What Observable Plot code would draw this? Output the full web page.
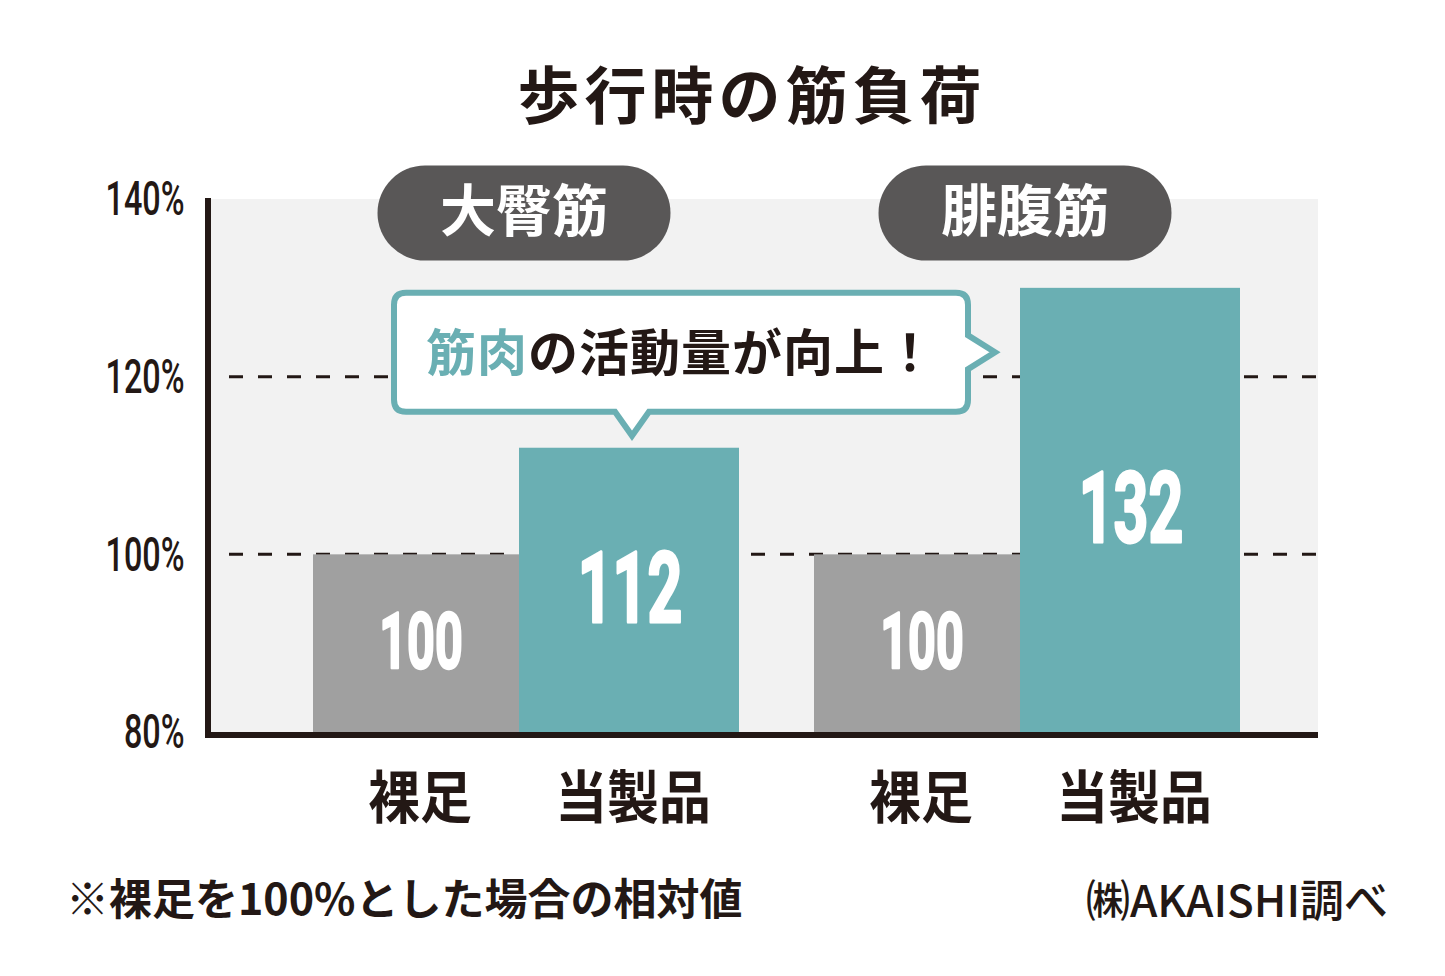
<!DOCTYPE html>
<html><head><meta charset="utf-8">
<script src="https://cdn.jsdelivr.net/npm/d3@7"></script>
<script src="https://cdn.jsdelivr.net/npm/@observablehq/plot@0.6"></script>
<style>
body{margin:0;background:#fff;}
#wrap{position:relative;width:1445px;height:976px;overflow:hidden;font-family:"Noto Sans CJK JP",sans-serif;color:#231815;}
#title{position:absolute;left:452px;width:600px;top:52px;text-align:center;font-size:62px;font-weight:700;letter-spacing:5px;line-height:80px;white-space:nowrap;}
#chart{position:absolute;left:0;top:150px;}
#note{position:absolute;left:66px;top:868px;font-size:43px;font-weight:700;line-height:56px;white-space:nowrap;}
#src{position:absolute;right:57px;top:870px;font-size:44px;font-weight:500;line-height:56px;white-space:nowrap;}
</style></head>
<body>
<div id="wrap">
  <div id="title">歩行時の筋負荷</div>
  <div id="chart"></div>
  <div id="note">※裸足を100%とした場合の相対値</div>
  <div id="src">㈱AKAISHI調べ</div>
</div>
<script>
// ---- data ----
const groups = ["大臀筋", "大臀筋", "腓腹筋", "腓腹筋"];
const conditions = ["裸足", "当製品", "裸足", "当製品"];
const barValues = [100, 112, 100, 130];      // bar heights as drawn in the picture
const labelValues = [100, 112, 100, 132];    // numbers printed on the bars
const yTicks = [80, 100, 120, 140];
const gridValues = [100, 120];
const calloutLead = "筋肉";
const calloutRest = "の活動量が向上！";

const rows = groups.map((g, i) => ({group: g, cond: conditions[i], value: barValues[i], label: String(labelValues[i])}));

const TEAL = "#6aafb3", GRAY = "#a0a0a0", DARK = "#231815";
const NUM = "Roboto, sans-serif";
const JP = "'Noto Sans CJK JP', sans-serif";
const isBare = d => d.cond === "裸足";
const isProd = d => d.cond === "当製品";
const FS_SMALL = 77, FS_BIG = 98, FS_PILL = 56, FS_Y = 49, FS_X = 57;

const plot = Plot.plot({
  width: 1445, height: 712,
  marginTop: 49, marginBottom: 130, marginLeft: 208, marginRight: 127,
  style: {background: "transparent", fontFamily: JP, color: DARK},
  facet: {data: rows, x: "group"},
  fx: {axis: null, paddingInner: 0.1477, paddingOuter: 0.1816, align: 0.571, label: null},
  x: {domain: ["裸足", "当製品"], padding: 0, label: null},
  y: {domain: [80, 140], label: null},
  color: {domain: ["裸足", "当製品"], range: [GRAY, TEAL]},
  marks: [
    Plot.barY(rows, {filter: isBare, x: "cond", y1: 80, y2: "value", fill: "cond", insetRight: 7}),
    Plot.barY(rows, {filter: isProd, x: "cond", y1: 80, y2: "value", fill: "cond", insetLeft: -7}),
    Plot.text(rows, {filter: isBare, x: "cond", y: d => (80 + d.value) / 2, dx: 1, text: "label", fill: "white", stroke: "white", strokeWidth: 2.5, fontSize: FS_SMALL, fontWeight: "bold", fontFamily: NUM}),
    Plot.text(rows, {filter: isProd, x: "cond", y: d => (80 + d.value) / 2, dx: -3, text: "label", fill: "white", stroke: "white", strokeWidth: 3, fontSize: FS_BIG, fontWeight: "bold", fontFamily: NUM}),
    Plot.text(rows, Plot.selectFirst({text: "group", frameAnchor: "top", lineAnchor: "middle", dy: 14, dx: -2, fill: "white", fontSize: FS_PILL, fontWeight: "bold", fontFamily: JP})),
    Plot.axisY(yTicks, {tickSize: 0, tickPadding: 128, tickFormat: d => d + "%", fontSize: FS_Y, fontWeight: 500, fontFamily: NUM, fill: DARK, label: null}),
    Plot.axisX({tickSize: 0, tickPadding: 45, fontSize: FS_X, fontWeight: "bold", fontFamily: JP, fill: DARK, label: null})
  ]
});
document.getElementById("chart").appendChild(plot);

// ---- post-processing (panel, grid, axis lines, pills, callout) ----
const svg = plot.tagName.toLowerCase() === "svg" ? plot : plot.querySelector("svg");
const NS = "http://www.w3.org/2000/svg";
// drop Plot's warning glyph, if any
[...svg.querySelectorAll("text")].filter(t => t.textContent.includes("⚠")).forEach(t => t.remove());
const y = plot.scale("y");
const Y = v => y.apply(v);
const left = 208, right = 1318;
function el(tag, attrs, parent) {
  const e = document.createElementNS(NS, tag);
  for (const k in attrs) e.setAttribute(k, attrs[k]);
  if (parent) parent.appendChild(e);
  return e;
}
const allTexts = [...svg.querySelectorAll("text")];
const textsBySize = fs => allTexts.filter(t => Math.round(parseFloat(getComputedStyle(t).fontSize)) === fs);

// horizontally condense texts around their anchor (computed in screen space)
function squeeze(texts, k, anchor) {
  texts.forEach(t => {
    const r = t.getBoundingClientRect();
    const w = document.createElementNS(NS, "g");
    t.parentNode.insertBefore(w, t);
    w.appendChild(t);
    const p = svg.createSVGPoint();
    p.x = anchor === "end" ? r.right : (r.left + r.right) / 2;
    p.y = (r.top + r.bottom) / 2;
    const q = p.matrixTransform(w.getScreenCTM().inverse());
    w.setAttribute("transform", `translate(${q.x},0) scale(${k},1) translate(${-q.x},0)`);
  });
}

const sb = svg.getBoundingClientRect();
const pillCenters = textsBySize(FS_PILL).map(t => {
  const b = t.getBoundingClientRect();
  return b.left + b.width / 2 - sb.left;
});

squeeze(textsBySize(FS_SMALL), 0.63, "middle");
squeeze(textsBySize(FS_BIG), 0.62, "middle");
squeeze(textsBySize(FS_Y), 0.66, "end");
squeeze(textsBySize(FS_X), 0.91, "middle");

// background layer
const back = el("g", {});
const styleEl = svg.querySelector("style");
svg.insertBefore(back, styleEl ? styleEl.nextSibling : svg.firstChild);
el("rect", {x: left, y: Y(140), width: right - left, height: Y(80) - Y(140), fill: "#f2f2f2"}, back);
gridValues.forEach(v => el("line", {x1: 229, x2: right, y1: Y(v), y2: Y(v), stroke: DARK, "stroke-width": 3, "stroke-dasharray": "14 15"}, back));

// pills (behind their labels)
pillCenters.forEach(cx => {
  const cy = Y(140) + 14;
  el("rect", {x: cx - 146.5, y: cy - 47.5, width: 293, height: 95, rx: 47.5, fill: "#595757"}, back);
});

// axis lines
el("line", {x1: left, x2: left, y1: Y(140) - 1, y2: Y(80) + 6, stroke: DARK, "stroke-width": 6}, svg);
el("line", {x1: left - 3, x2: right, y1: Y(80) + 3, y2: Y(80) + 3, stroke: DARK, "stroke-width": 6}, svg);

// callout
const bars = [...svg.querySelectorAll('g[aria-label="bar"] rect')].map(r => {
  const b = r.getBoundingClientRect();
  return {l: b.left - sb.left, r: b.right - sb.left, t: b.top - sb.top};
}).sort((a, b) => a.l - b.l);
const b1 = bars[0], t1 = bars[1], t2 = bars[3];
const tipX = (t1.l + t1.r) / 2 + 3, tipY = Y(112) - 12;
const bx0 = b1.l + 81, bx1 = t2.l - 52, by1 = tipY - 24, by0 = by1 - 119;
const rr = 12, midY = (by0 + by1) / 2;
const d = [
  `M${bx0 + rr},${by0}`, `H${bx1 - rr}`, `Q${bx1},${by0} ${bx1},${by0 + rr}`,
  `V${midY - 17}`, `L${bx1 + 27},${midY}`, `L${bx1},${midY + 17}`,
  `V${by1 - rr}`, `Q${bx1},${by1} ${bx1 - rr},${by1}`,
  `H${tipX + 17}`, `L${tipX},${by1 + 24}`, `L${tipX - 17},${by1}`,
  `H${bx0 + rr}`, `Q${bx0},${by1} ${bx0},${by1 - rr}`, `V${by0 + rr}`, `Q${bx0},${by0} ${bx0 + rr},${by0}`, "Z"
].join(" ");
const cg = el("g", {}, svg);
el("path", {d, fill: "white", stroke: TEAL, "stroke-width": 6, "stroke-linejoin": "miter"}, cg);
const ct = el("text", {x: (bx0 + bx1) / 2, y: midY - 3, "text-anchor": "middle", "dominant-baseline": "central", "font-family": "Noto Sans CJK JP, sans-serif", "font-size": 50, "font-weight": 700, "letter-spacing": 1, fill: DARK}, cg);
el("tspan", {fill: TEAL}, ct).textContent = calloutLead;
el("tspan", {}, ct).textContent = calloutRest;
</script>
</body></html>
